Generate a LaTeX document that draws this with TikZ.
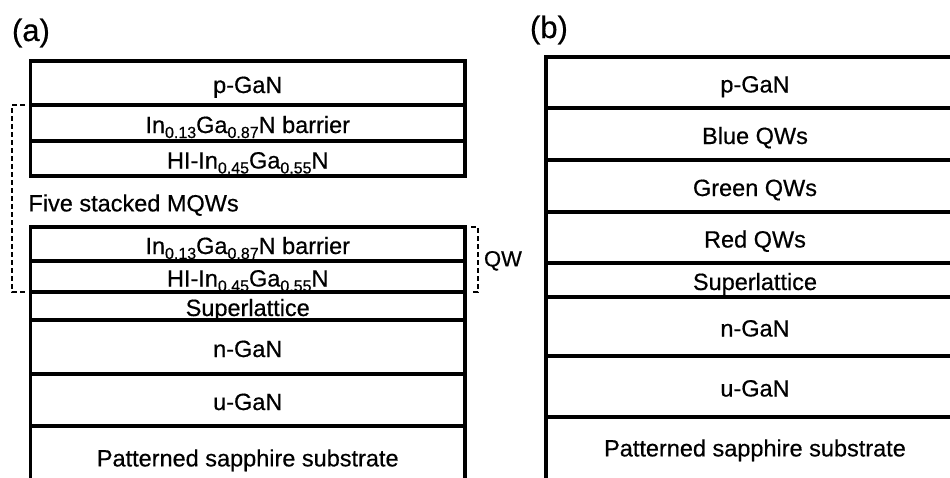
\documentclass[tikz,border=0pt]{standalone}
\usepackage{fontspec}
\setmainfont{Liberation Sans}
\newfontfamily\heavy{Liberation Sans}[FakeBold=0.5]
\newcommand\lsub[1]{\raisebox{-5pt}{\fontsize{16}{16}\selectfont #1}}
\tikzset{
  layer/.style={draw, line width=3.3pt, rectangle, anchor=north west,
    inner sep=0pt, outer sep=0pt, text height=20pt, text depth=0pt,
    font=\heavy\fontsize{23.5}{28}\selectfont},
  la/.style={layer, minimum width=434.5pt, minimum height=#1},
  lb/.style={layer, minimum width=418pt, minimum height=#1},
  brk/.style={line width=1.6pt, dash pattern=on 5pt off 3pt},
  plain/.style={inner sep=0pt, outer sep=0pt},
}
\begin{document}
\begin{tikzpicture}[x=1pt, y=-1pt]
\path[use as bounding box, clip] (0,0) rectangle (950,477);
% panel labels
\node[plain, anchor=base west, font=\heavy\fontsize{31}{36}\selectfont] (lbla) at (12,41) {(a)};
\node[plain, anchor=base west, font=\heavy\fontsize{31}{36}\selectfont] (lblb) at (530,38) {(b)};
% (a) upper stack
\node[la=44pt]  (pa)   at (30.5,61)  {p-GaN};
\node[la=36pt]  (bar1) at (30.5,105) {In\lsub{0.13}Ga\lsub{0.87}N barrier};
\node[la=35pt]  (hi1)  at (30.5,141) {HI-In\lsub{0.45}Ga\lsub{0.55}N};
\node[plain, anchor=base west, font=\heavy\fontsize{23.5}{28}\selectfont] (five) at (28.5,211.4) {Five stacked MQWs};
% (a) lower stack
\node[la=34pt]  (bar2) at (30.5,227) {In\lsub{0.13}Ga\lsub{0.87}N barrier};
\node[la=31pt]  (hi2)  at (30.5,261) {HI-In\lsub{0.45}Ga\lsub{0.55}N};
\node[la=28pt]  (sla)  at (30.5,292) {Superlattice};
\node[la=54pt]  (na)   at (30.5,320) {n-GaN};
\node[la=52pt]  (ua)   at (30.5,374) {u-GaN};
\node[la=100pt, text height=17pt, text depth=36.2pt] (suba) at (30.5,426) {Patterned sapphire substrate};
% brackets
\draw[brk] ([xshift=-5.5pt]bar1.north west) -| ([xshift=-18.5pt]hi2.south west) -- ([xshift=-5.5pt]hi2.south west);
\draw[brk] ([xshift=6pt]bar2.north east) -| ([xshift=13pt]hi2.south east) -- ([xshift=6pt]hi2.south east);
\node[plain, anchor=base west, font=\heavy\fontsize{22}{26}\selectfont] (qw) at (484,266.4) {QW};
% (b) stack
\node[lb=51pt] (pb)    at (546,57)  {p-GaN};
\node[lb=52pt] (blue)  at (546,108) {Blue QWs};
\node[lb=52pt] (green) at (546,160) {Green QWs};
\node[lb=51pt] (red)   at (546,212) {Red QWs};
\node[lb=34pt] (slb)   at (546,263) {Superlattice};
\node[lb=59pt] (nb)    at (546,297) {n-GaN};
\node[lb=61pt] (ub)    at (546,356) {u-GaN};
\node[lb=100pt, text height=17pt, text depth=38.2pt] (subb) at (546,417) {Patterned sapphire substrate};
\end{tikzpicture}
\end{document}
